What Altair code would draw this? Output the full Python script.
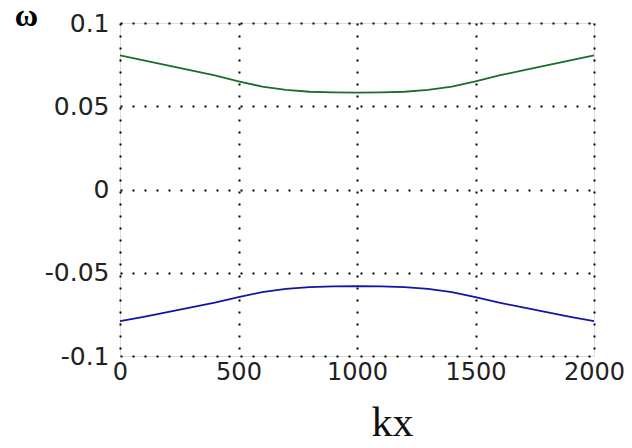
import altair as alt
import pandas as pd

kx = [0, 100, 200, 300, 400, 500, 600, 700, 800, 900, 1000,
      1100, 1200, 1300, 1400, 1500, 1600, 1700, 1800, 1900, 2000]
omega_upper = [0.0805, 0.0775, 0.0745, 0.0715, 0.0685, 0.0650, 0.0618, 0.0598, 0.0587, 0.0583, 0.0582,
               0.0583, 0.0587, 0.0598, 0.0618, 0.0650, 0.0685, 0.0715, 0.0745, 0.0775, 0.0805]
omega_lower = [-0.0790, -0.0765, -0.0737, -0.0708, -0.0680, -0.0647, -0.0616, -0.0597, -0.0586, -0.0582, -0.0581,
               -0.0582, -0.0586, -0.0597, -0.0616, -0.0647, -0.0680, -0.0708, -0.0737, -0.0765, -0.0790]
branches = ["upper", "lower"]
colors = ["#17702a", "#1414a8"]

rows = []
for k, u, l in zip(kx, omega_upper, omega_lower):
    rows.append({"kx": k, "omega": u, "branch": "upper"})
    rows.append({"kx": k, "omega": l, "branch": "lower"})
df = pd.DataFrame(rows)

label_font = "DejaVu Sans"

chart = alt.Chart(df).mark_line(strokeWidth=1.8).encode(
    x=alt.X("kx:Q", scale=alt.Scale(domain=[0, 2000], nice=False),
            axis=alt.Axis(values=[0, 500, 1000, 1500, 2000], title="kx", format="d",
                          titleFont="Liberation Serif", titleFontSize=42, titleFontWeight="normal",
                          titleAlign="center", titleBaseline="alphabetic",
                          titleX=272, titleY=79, titleColor="#111",
                          labelFont=label_font, labelFontSize=24, labelColor="#222",
                          labelPadding=4, labelFlush=False, ticks=False, domain=False,
                          grid=True, gridColor="#000", gridDash=[2, 10], gridWidth=2,
                          gridOpacity=1)),
    y=alt.Y("omega:Q", scale=alt.Scale(domain=[-0.1, 0.1], nice=False),
            axis=alt.Axis(values=[-0.1, -0.05, 0, 0.05, 0.1], title="ω",
                          labelExpr="datum.value == 0 ? '0' : (datum.value < 0 ? '-' : '') + format(abs(datum.value), '~g')",
                          titleFont="Liberation Serif", titleFontSize=32, titleFontWeight="bold",
                          titleAngle=0, titleAlign="center", titleBaseline="alphabetic",
                          titleX=-94, titleY=2, titleColor="#000",
                          labelFont=label_font, labelFontSize=25, labelColor="#222",
                          labelPadding=11, labelFlush=False, ticks=False, domain=False,
                          grid=True, gridColor="#000", gridDash=[2, 10], gridWidth=2,
                          gridOpacity=1)),
    color=alt.Color("branch:N", scale=alt.Scale(domain=branches, range=colors), legend=None),
    detail="branch:N",
).properties(
    width=474, height=333,
    autosize=alt.AutoSizeParams(type="none"),
    padding={"left": 112, "top": 15, "right": 30, "bottom": 84},
).configure_view(
    stroke="#000", strokeWidth=2, fill="white"
).configure(background="white")

chart.save("out.html", embed_options={"renderer": "svg", "actions": False})
